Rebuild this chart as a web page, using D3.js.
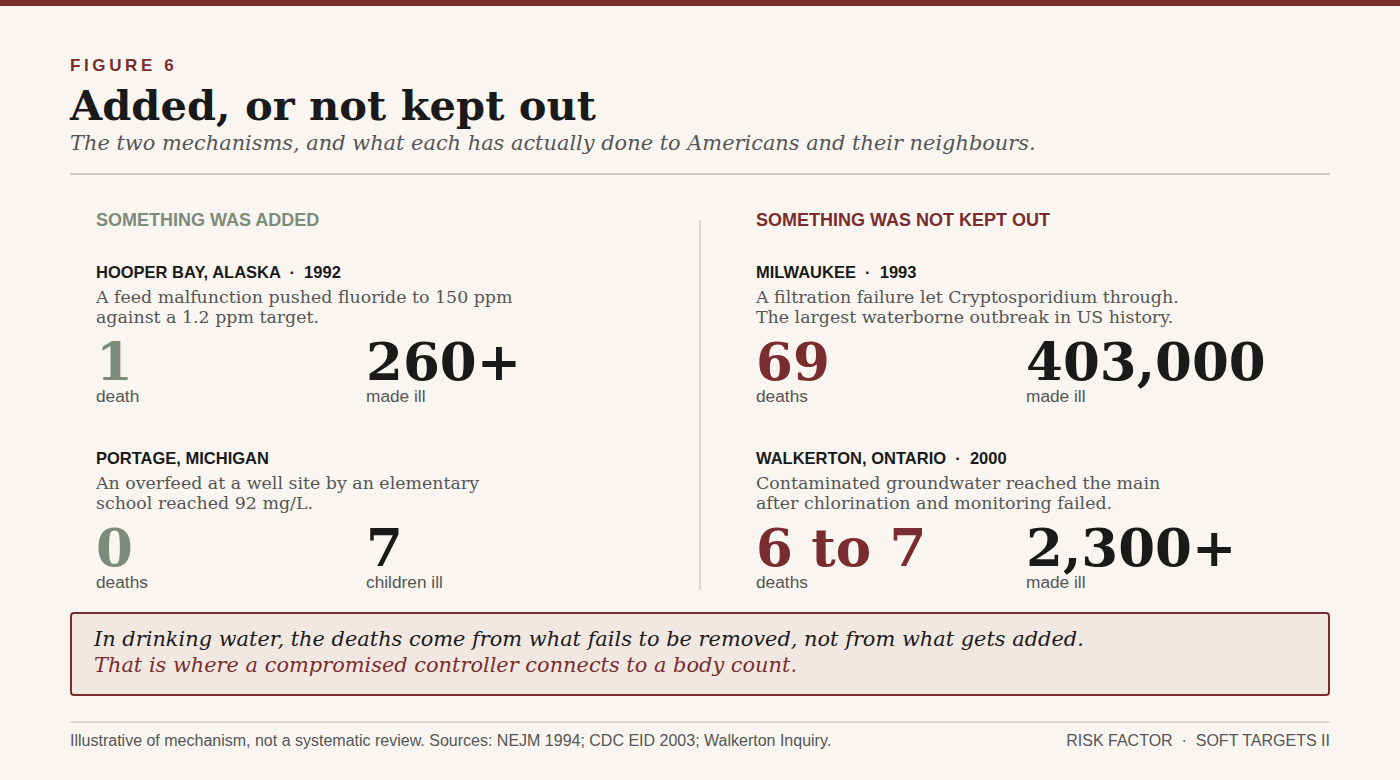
<!DOCTYPE html>
<html>
<head>
<meta charset="utf-8">
<script src="https://cdn.jsdelivr.net/npm/d3@7"></script>
<style>
  body { margin: 0; background: #f9f6f1; }
  svg { display: block; }
  .sans { font-family: "Liberation Sans", Arial, sans-serif; }
  .serif { font-family: "DejaVu Serif", serif; }
</style>
</head>
<body>
<div id="chart"></div>
<script>
const width = 1400;
const height = 780;

// column headings
const columns = ["SOMETHING WAS ADDED", "SOMETHING WAS NOT KEPT OUT"];
const columnKeys = ["added", "notKeptOut"];

// cases, one row each per column
const places = ["HOOPER BAY, ALASKA", "PORTAGE, MICHIGAN", "MILWAUKEE", "WALKERTON, ONTARIO"];
const years = ["1992", "", "1993", "2000"];
const caseColumn = ["added", "added", "notKeptOut", "notKeptOut"];
const caseRow = [0, 1, 0, 1];
const descriptions = [
    ["A feed malfunction pushed fluoride to 150 ppm", "against a 1.2 ppm target."],
    ["An overfeed at a well site by an elementary", "school reached 92 mg/L."],
    ["A filtration failure let Cryptosporidium through.", "The largest waterborne outbreak in US history."],
    ["Contaminated groundwater reached the main", "after chlorination and monitoring failed."]
];
const deaths = ["1", "0", "69", "6 to 7"];
const deathLabels = ["death", "deaths", "deaths", "deaths"];
const ill = ["260+", "7", "403,000", "2,300+"];
const illLabels = ["made ill", "children ill", "made ill", "made ill"];

const quoteLines = [
    "In drinking water, the deaths come from what fails to be removed, not from what gets added.",
    "That is where a compromised controller connects to a body count."
];

const colour = {
    red: "#7a2c2e",
    green: "#7d8b7a",
    ink: "#1a1a1a",
    grey: "#555555",
    rule: "#cfcbc6"
};

function draw() {
    const svg = d3.select("#chart")
        .append("svg")
        .attr("width", width)
        .attr("height", height);

    svg.append("rect").attr("width", width).attr("height", height).attr("fill", "#f9f6f1");
    svg.append("rect").attr("width", width).attr("height", 6).attr("fill", colour.red);

    const margin = { left: 70, right: 70 };

    // header
    svg.append("text").attr("class", "sans")
        .attr("x", margin.left).attr("y", 71)
        .attr("font-size", 17).attr("font-weight", "bold")
        .attr("letter-spacing", "3.6px")
        .attr("fill", colour.red)
        .text("FIGURE 6");

    svg.append("text").attr("class", "serif")
        .attr("x", margin.left).attr("y", 120)
        .attr("font-size", 41.6).attr("font-weight", "bold")
        .attr("fill", colour.ink)
        .text("Added, or not kept out");

    svg.append("text").attr("class", "serif")
        .attr("x", margin.left).attr("y", 150)
        .attr("font-size", 20.9).attr("font-style", "italic")
        .attr("fill", colour.grey)
        .text("The two mechanisms, and what each has actually done to Americans and their neighbours.");

    svg.append("line")
        .attr("x1", margin.left).attr("x2", width - margin.right)
        .attr("y1", 174).attr("y2", 174)
        .attr("stroke", colour.rule).attr("stroke-width", 2);

    // column and row positions
    const xCol = d3.scalePoint().domain(columnKeys).range([96, 756]);
    const yRow = d3.scalePoint().domain([0, 1]).range([278, 464]);

    svg.append("line")
        .attr("x1", 700).attr("x2", 700)
        .attr("y1", 220).attr("y2", 590)
        .attr("stroke", colour.rule).attr("stroke-width", 1.5);

    svg.selectAll(".col-head")
        .data(columns)
        .join("text")
        .attr("class", "col-head sans")
        .attr("x", (d, i) => xCol(columnKeys[i]))
        .attr("y", 226)
        .attr("font-size", 18).attr("font-weight", "bold")
        .attr("fill", (d, i) => i === 0 ? colour.green : colour.red)
        .text(d => d);

    const cases = places.map((p, i) => ({
        place: p, year: years[i], col: caseColumn[i], row: caseRow[i],
        desc: descriptions[i], deaths: deaths[i], deathLabel: deathLabels[i],
        ill: ill[i], illLabel: illLabels[i]
    }));

    const g = svg.selectAll(".case")
        .data(cases)
        .join("g")
        .attr("class", "case")
        .attr("transform", d => `translate(${xCol(d.col)},${yRow(d.row)})`);

    g.append("text").attr("class", "sans")
        .attr("font-size", 16.5).attr("font-weight", "bold")
        .attr("fill", colour.ink)
        .style("white-space", "pre")
        .text(d => d.year ? `${d.place}  \u00b7  ${d.year}` : d.place);

    g.each(function (d) {
        d3.select(this).selectAll(".desc")
            .data(d.desc)
            .join("text")
            .attr("class", "desc serif")
            .attr("y", (t, j) => 25 + j * 20)
            .attr("font-size", 17.4)
            .attr("fill", colour.grey)
            .text(t => t);
    });

    g.append("text").attr("class", "serif")
        .attr("y", 102)
        .attr("font-size", 53).attr("font-weight", "bold")
        .attr("fill", d => d.col === "added" ? colour.green : colour.red)
        .text(d => d.deaths);

    g.append("text").attr("class", "sans")
        .attr("y", 124)
        .attr("font-size", 17.3)
        .attr("fill", colour.grey)
        .text(d => d.deathLabel);

    g.append("text").attr("class", "serif")
        .attr("x", 270).attr("y", 102)
        .attr("font-size", 53).attr("font-weight", "bold")
        .attr("fill", colour.ink)
        .text(d => d.ill);

    g.append("text").attr("class", "sans")
        .attr("x", 270).attr("y", 124)
        .attr("font-size", 17.3)
        .attr("fill", colour.grey)
        .text(d => d.illLabel);

    // quote box
    svg.append("rect")
        .attr("x", 71).attr("y", 613)
        .attr("width", 1258).attr("height", 82)
        .attr("rx", 3)
        .attr("fill", "#f2e8e2")
        .attr("stroke", colour.red).attr("stroke-width", 2);

    svg.selectAll(".quote")
        .data(quoteLines)
        .join("text")
        .attr("class", "quote serif")
        .attr("x", 94)
        .attr("y", (d, i) => 646 + i * 26)
        .attr("font-size", 20.9).attr("font-style", "italic")
        .attr("fill", (d, i) => i === 0 ? colour.ink : colour.red)
        .text(d => d);

    // footer
    svg.append("line")
        .attr("x1", margin.left).attr("x2", width - margin.right)
        .attr("y1", 722).attr("y2", 722)
        .attr("stroke", colour.rule).attr("stroke-width", 1.5);

    svg.append("text").attr("class", "sans")
        .attr("x", margin.left).attr("y", 746)
        .attr("font-size", 16).attr("fill", colour.grey)
        .text("Illustrative of mechanism, not a systematic review. Sources: NEJM 1994; CDC EID 2003; Walkerton Inquiry.");

    svg.append("text").attr("class", "sans")
        .attr("x", width - margin.right).attr("y", 746)
        .attr("text-anchor", "end")
        .attr("font-size", 16).attr("fill", colour.grey)
        .style("white-space", "pre")
        .text("RISK FACTOR  \u00b7  SOFT TARGETS II");
}

draw();
</script>
</body>
</html>
